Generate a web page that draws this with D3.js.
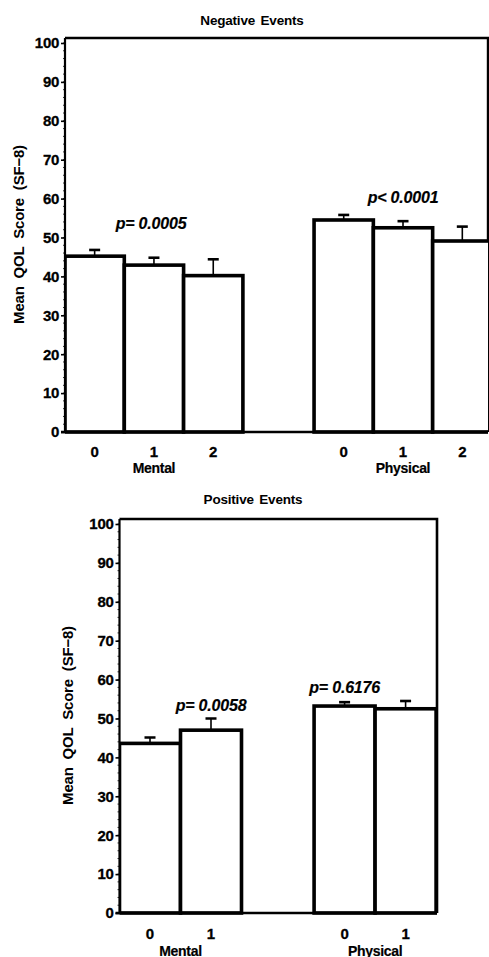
<!DOCTYPE html>
<html><head><meta charset="utf-8">
<script src="https://cdn.jsdelivr.net/npm/d3@7"></script>
<style>body{margin:0;background:#fff}</style>
</head><body><svg id="c" width="489" height="957"></svg>
<script>
// ---- data ----
const groups = ["Mental", "Physical"];
const negLevels = ["0", "1", "2"];
const posLevels = ["0", "1"];
const negMentalMean = [45.2, 42.9, 40.2];
const negMentalUpper = [46.8, 44.8, 44.4];
const negPhysicalMean = [54.5, 52.5, 49.1];
const negPhysicalUpper = [55.8, 54.2, 52.8];
const posMentalMean = [43.6, 47.0];
const posMentalUpper = [45.1, 50.0];
const posPhysicalMean = [53.2, 52.5];
const posPhysicalUpper = [54.2, 54.5];
const negPLabels = ["p= 0.0005", "p< 0.0001"];
const posPLabels = ["p= 0.0058", "p= 0.6176"];
const yTicks = [0, 10, 20, 30, 40, 50, 60, 70, 80, 90, 100];
const yLabel = "Mean QOL Score (SF\u22128)";

const svg = d3.select("#c");
const FONT = "'Liberation Sans', Arial, sans-serif";

function panel(cfg) {
  const g = svg.append("g");
  const y = d3.scaleLinear().domain([0, 100]).range(cfg.yRange);
  const x = d3.scaleLinear().domain([0, 1]).range([cfg.x0, cfg.x0 + cfg.barW]);
  const series = cfg.means.map((m, gi) => m.map((v, li) => ({
    group: groups[gi], gi, li, level: cfg.levels[li], mean: v, upper: cfg.uppers[gi][li]
  }))).flat();
  const left = d => x(cfg.slotStarts[d.gi] + d.li);
  const right = d => x(cfg.slotStarts[d.gi] + d.li + 1);
  const clipId = "clip" + cfg.id;
  g.append("clipPath").attr("id", clipId).append("rect")
    .attr("x", cfg.x0).attr("y", 0).attr("width", cfg.frameRight - cfg.x0).attr("height", 957);

  // frame (top & right)
  g.append("path")
    .attr("d", `M${cfg.x0},${y(cfg.frameTopVal)}H${cfg.frameRight}V${y(0)}`)
    .attr("fill", "none").attr("stroke", "#000").attr("stroke-width", cfg.frameW);

  // error bars
  const eb = g.append("g").attr("clip-path", `url(#${clipId})`);
  series.forEach(d => {
    const cx = (left(d) + right(d)) / 2;
    eb.append("line").attr("x1", cx).attr("x2", cx).attr("y1", y(d.mean)).attr("y2", y(d.upper))
      .attr("stroke", "#000").attr("stroke-width", 1.6);
    eb.append("line").attr("x1", cx - 5.5).attr("x2", cx + 5.5).attr("y1", y(d.upper)).attr("y2", y(d.upper))
      .attr("stroke", "#000").attr("stroke-width", 2.6);
  });
  // bars
  const bars = g.append("g").attr("clip-path", `url(#${clipId})`);
  bars.selectAll("rect").data(series).join("rect")
    .attr("x", d => left(d)).attr("width", d => right(d) - left(d))
    .attr("y", d => y(d.mean)).attr("height", d => y(0) - y(d.mean))
    .attr("fill", "#fff").attr("stroke", "#000").attr("stroke-width", 3.6);

  // y axis minor ticks
  const minor = d3.range(0, 101, 2);
  g.append("g").selectAll("line").data(minor).join("line")
    .attr("x1", cfg.x0 - 2).attr("x2", cfg.x0).attr("y1", d => y(d)).attr("y2", d => y(d))
    .attr("stroke", "#000").attr("stroke-width", 0.8);
  // y axis
  const ya = g.append("g").attr("transform", `translate(${cfg.x0},0)`)
    .call(d3.axisLeft(y).tickValues(yTicks).tickSize(4).tickPadding(2).tickSizeOuter(0));
  ya.select(".domain").attr("stroke-width", 2.2)
    .attr("d", `M0,${y(0)}V${y(cfg.frameTopVal)}`);
  ya.selectAll(".tick line").attr("stroke-width", 1.6);
  ya.selectAll(".tick text").attr("font-family", FONT).attr("font-weight", "bold")
    .attr("font-size", 15).attr("fill", "#000").attr("letter-spacing", "-0.3")
    .attr("stroke", "#000").attr("stroke-width", 0.3);
  // x axis line
  g.append("line").attr("x1", cfg.x0 - 4).attr("x2", cfg.frameRight).attr("y1", y(0)).attr("y2", y(0))
    .attr("stroke", "#000").attr("stroke-width", 2.6);

  // x tick labels
  g.append("g").selectAll("text").data(series).join("text")
    .attr("x", d => (left(d) + right(d)) / 2).attr("y", cfg.tickLabelY)
    .attr("text-anchor", "middle").attr("font-family", FONT).attr("font-weight", "bold")
    .attr("font-size", 15).attr("stroke", "#000").attr("stroke-width", 0.3).text(d => d.level);
  // group labels
  g.append("g").selectAll("text").data(groups).join("text")
    .attr("x", (d, i) => x(cfg.slotStarts[i] + cfg.groupLabelSlot[i])).attr("y", cfg.groupLabelY)
    .attr("text-anchor", "middle").attr("font-family", FONT).attr("font-weight", "bold")
    .attr("font-size", 14).attr("letter-spacing", "-0.3").attr("stroke", "#000").attr("stroke-width", 0.2)
    .text(d => d);
  // p-values
  g.append("g").selectAll("text").data(cfg.pLabels).join("text")
    .attr("x", (d, i) => x(cfg.slotStarts[i] + cfg.pSlot[i])).attr("y", (d, i) => y(cfg.pVal[i]))
    .attr("text-anchor", "middle").attr("font-family", FONT).attr("font-weight", "bold")
    .attr("font-style", "italic").attr("font-size", 16).attr("letter-spacing", "-0.2")
    .attr("stroke", "#000").attr("stroke-width", 0.2).text(d => d);
  // title
  g.append("text").attr("x", cfg.titleX).attr("y", cfg.titleY).attr("text-anchor", "middle")
    .attr("font-family", FONT).attr("font-weight", "bold").attr("font-size", 13.5)
    .attr("letter-spacing", "-0.2").attr("word-spacing", "2").text(cfg.title);
  // y label
  g.append("text").attr("transform", `translate(${cfg.yLabelX},${(y(0) + y(100)) / 2 - 3}) rotate(-90)`)
    .attr("text-anchor", "middle").attr("dy", "0.35em")
    .attr("font-family", FONT).attr("font-weight", "bold").attr("font-size", 15)
    .attr("word-spacing", "4").attr("letter-spacing", "-0.2").text(yLabel);
}

panel({
  id: "neg", title: "Negative Events", levels: negLevels,
  means: [negMentalMean, negPhysicalMean], uppers: [negMentalUpper, negPhysicalUpper],
  pLabels: negPLabels, pSlot: [1.45, 1.5], pVal: [52.2, 58.9],
  x0: 65, barW: 59.3, slotStarts: [0, 4.2], yRange: [432, 43], frameTopVal: 101.3, frameRight: 488,
  frameW: 2.4, tickLabelY: 456.5, groupLabelY: 473, groupLabelSlot: [1.5, 1.5],
  titleX: 252, titleY: 24.5, yLabelX: 19
});
panel({
  id: "pos", title: "Positive Events", levels: posLevels,
  means: [posMentalMean, posPhysicalMean], uppers: [posMentalUpper, posPhysicalUpper],
  pLabels: posPLabels, pSlot: [1.5, 0.5], pVal: [52.0, 56.6],
  x0: 119.5, barW: 61, slotStarts: [0, 3.19], yRange: [913, 524], frameTopVal: 101.3, frameRight: 437,
  frameW: 2.6, tickLabelY: 938.5, groupLabelY: 955.5, groupLabelSlot: [1, 1],
  titleX: 253, titleY: 504, yLabelX: 68
});
</script></body></html>
